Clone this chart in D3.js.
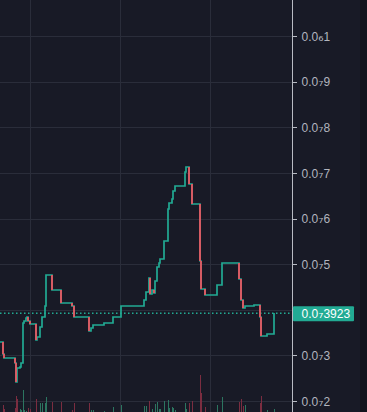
<!DOCTYPE html>
<html>
<head>
<meta charset="utf-8">
<title>Price step chart</title>
<script src="https://cdn.jsdelivr.net/npm/d3@7"></script>
<style>
  html, body { margin: 0; padding: 0; background: #181a26; }
  svg { display: block; }
</style>
</head>
<body>
<div id="chart"></div>
<script>
// price is kept in units of 1e-8
var unit = 1e-8;

// step line: bar index where the level changes, and the new level
var bars = [-1, 3, 4, 15, 16, 17, 20, 21, 23, 24, 26, 27, 28, 30, 36, 37, 40, 42, 45, 46,
            52, 61, 72, 74, 89, 91, 93, 104, 113, 121, 144, 146, 149, 150, 152, 154, 155, 157, 159, 160,
            164, 168, 169, 172, 173, 175, 185, 186, 189, 192, 200, 201, 205, 217, 222, 239, 241, 243, 245, 254,
            260, 261, 267, 274];
var prices = [3.293, 3.030, 2.942, 2.839, 2.423, 2.723, 2.752, 2.826, 3.703, 3.760, 3.813, 3.848, 3.753, 3.681, 3.337, 3.396, 3.615, 3.835, 4.082, 4.762,
              4.426, 4.141, 4.089, 3.848, 3.541, 3.607, 3.659, 3.703, 3.835, 4.076, 4.207, 4.382, 4.696, 4.339, 4.426, 4.361, 4.624, 4.930, 5.018, 5.106,
              5.500, 6.202, 6.333, 6.421, 6.596, 6.712, 7.013, 7.122, 6.750, 6.311, 5.062, 4.448, 4.317, 4.536, 5.014, 4.667, 4.207, 4.032, 4.076, 4.098,
              3.835, 3.418, 3.462, 3.923];

// volume histogram (bottom, mostly cut off)
var volBars = [3, 4, 15, 16, 17, 20, 21, 23, 24, 26, 28, 30, 36, 40, 42, 45, 46, 52, 61, 72,
               74, 89, 91, 93, 104, 113, 121, 144, 146, 149, 152, 155, 157, 159, 160, 164, 168, 169, 172, 173,
               175, 185, 186, 189, 192, 200, 201, 205, 217, 222, 239, 241, 243, 245, 260, 261, 267, 274];
var volValues = [11, 7, 8, 20, 17, 7, 6, 26, 6, 5, 8, 7, 17, 13, 13, 13, 19, 14, 14, 6,
                 13, 13, 6, 6, 5, 9, 11, 10, 10, 15, 7, 12, 14, 7, 7, 15, 16, 8, 9, 8,
                 6, 13, 7, 13, 15, 41, 23, 9, 11, 19, 14, 17, 10, 11, 13, 20, 6, 7];
var volUp = [0, 0, 0, 0, 0, 1, 1, 1, 1, 1, 0, 0, 0, 1, 1, 1, 1, 0, 0, 0,
             0, 0, 1, 1, 1, 1, 1, 1, 1, 0, 1, 1, 1, 1, 1, 1, 1, 1, 1, 1,
             1, 1, 1, 0, 0, 0, 0, 0, 1, 1, 0, 0, 0, 1, 0, 0, 1, 1];

var priceTicks = [2, 3, 4, 5, 6, 7, 8, 9, 10];
var timeGrid = [30, 120, 210, 300];
var lastPrice = 3.923;

var W = 367, H = 412, plotW = 292;
var teal = "#22ab94", red = "#f7525f";

var svg = d3.select("#chart").append("svg")
    .attr("width", W)
    .attr("height", H);

svg.append("rect").attr("width", W).attr("height", H).attr("fill", "#181a26");
svg.append("rect").attr("x", 360).attr("width", W - 360).attr("height", H).attr("fill", "#12141d");

var x = d3.scaleLinear().domain([0, plotW]).range([0, plotW]);
var y = d3.scaleLinear().domain([2, 10]).range([401, 36]);
var vy = d3.scaleLinear().domain([0, 50]).range([416, 366]);

// number like 0.00000003923 -> ["0.0", "₇", "3923"]
var subs = "₀₁₂₃₄₅₆₇₈₉";
function fmtParts(v) {
    var s = (v * unit).toFixed(12).replace(/0+$/, "");
    var m = s.match(/^0\.(0+)(\d+)$/);
    if (!m) return [s, "", ""];
    var n = String(m[1].length).split("").map(function(c) { return subs[+c]; }).join("");
    return ["0.0", n, m[2]];
}
function writeLabel(sel, v) {
    var p = fmtParts(v);
    sel.append("tspan").text(p[0]);
    sel.append("tspan").style("font-family", "'DejaVu Sans', sans-serif").style("font-size", "13px").text(p[1]);
    sel.append("tspan").text(p[2]);
}

svg.append("defs").append("clipPath").attr("id", "plot")
    .append("rect").attr("width", plotW).attr("height", H);

var g = svg.append("g").attr("clip-path", "url(#plot)");

// grid
g.selectAll(".hgrid").data(priceTicks).enter().append("line")
    .attr("x1", 0).attr("x2", plotW)
    .attr("y1", function(d) { return Math.round(y(d)) + 0.5; })
    .attr("y2", function(d) { return Math.round(y(d)) + 0.5; })
    .attr("stroke", "#2a2d3a");
g.selectAll(".vgrid").data(timeGrid).enter().append("line")
    .attr("x1", function(d) { return x(d) + 0.5; })
    .attr("x2", function(d) { return x(d) + 0.5; })
    .attr("y1", 0).attr("y2", H)
    .attr("stroke", "#2a2d3a");

// volume
g.selectAll(".vol").data(volBars).enter().append("rect")
    .attr("x", function(d) { return x(d); })
    .attr("width", 1)
    .attr("y", function(d, i) { return vy(volValues[i]); })
    .attr("height", function(d, i) { return vy(0) - vy(volValues[i]); })
    .attr("fill", function(d, i) { return volUp[i] ? "#2c7560" : "#7b2d40"; });

// last price dotted line
g.append("line")
    .attr("x1", 0).attr("x2", plotW)
    .attr("y1", y(lastPrice)).attr("y2", y(lastPrice))
    .attr("stroke", teal)
    .attr("stroke-width", 1.5)
    .attr("stroke-dasharray", "1.5,2.5");

// step line, snapped to whole pixels
var px = function(b) { return Math.round(x(b)); };
var py = function(v) { return Math.round(y(v)); };
var pts = bars.map(function(b, i) { return [px(b), py(prices[i])]; });
g.append("path")
    .attr("d", d3.line().curve(d3.curveStepAfter)(pts))
    .attr("fill", "none")
    .attr("stroke", teal)
    .attr("stroke-width", 1.7);

// falling moves drawn red
var drops = [];
for (var i = 1; i < bars.length; i++) {
    if (prices[i] < prices[i - 1]) {
        drops.push([[px(bars[i]), py(prices[i - 1])], [px(bars[i]), py(prices[i])]]);
    }
}
g.selectAll(".drop").data(drops).enter().append("path")
    .attr("d", d3.line())
    .attr("fill", "none")
    .attr("stroke", red)
    .attr("stroke-width", 1.7);

// price axis
svg.append("line")
    .attr("x1", plotW + 0.5).attr("x2", plotW + 0.5)
    .attr("y1", 0).attr("y2", H)
    .attr("stroke", "#b8bbc3");

var shown = priceTicks.filter(function(d) { return Math.abs(y(d) - y(lastPrice)) > 14; });
svg.selectAll(".tick").data(shown).enter().append("line")
    .attr("x1", plotW + 1).attr("x2", plotW + 5)
    .attr("y1", function(d) { return Math.round(y(d)) + 0.5; })
    .attr("y2", function(d) { return Math.round(y(d)) + 0.5; })
    .attr("stroke", "#b8bbc3");
svg.selectAll(".lbl").data(shown).enter().append("text")
    .attr("x", 301.5)
    .attr("y", function(d) { return y(d) + 0.5; })
    .attr("dy", "0.35em")
    .attr("fill", "#b2b5be")
    .style("font-family", "'Liberation Sans', 'DejaVu Sans', sans-serif")
    .style("font-size", "12px")
    .each(function(d) { writeLabel(d3.select(this), d); });

// last price label
var ly = y(lastPrice);
svg.append("rect")
    .attr("x", plotW + 1).attr("y", ly - 7)
    .attr("width", 61).attr("height", 15)
    .attr("rx", 1)
    .attr("fill", teal);
var lt = svg.append("text")
    .attr("x", 301.5)
    .attr("y", ly + 0.5)
    .attr("dy", "0.35em")
    .attr("fill", "#ffffff")
    .style("font-family", "'Liberation Sans', 'DejaVu Sans', sans-serif")
    .style("font-size", "12px");
writeLabel(lt, lastPrice);
</script>
</body>
</html>
